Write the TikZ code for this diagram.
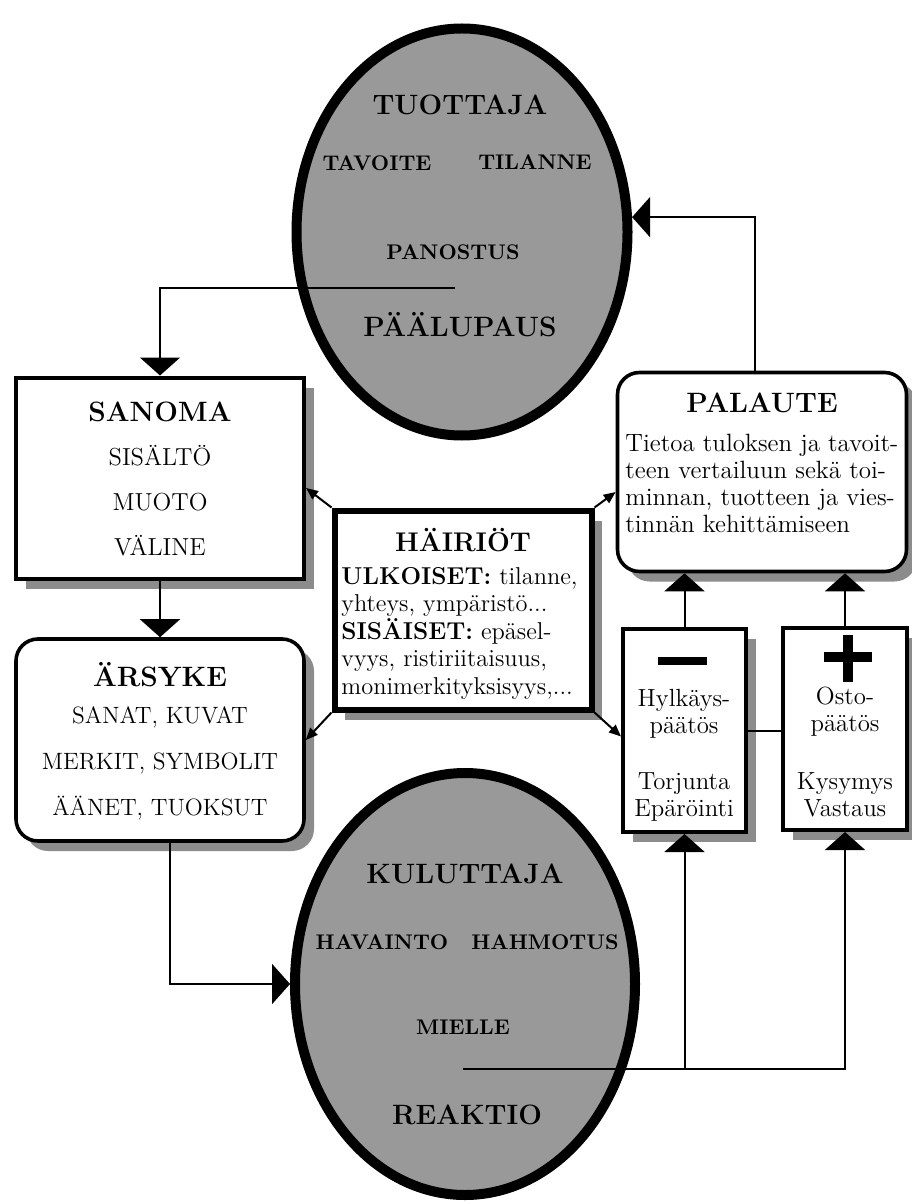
\documentclass[tikz,border=0pt]{standalone}
\usetikzlibrary{arrows.meta,positioning,shapes.geometric,shadows}

\begin{document}
\begin{tikzpicture}[x=.5pt, y=-.5pt, font=\fontsize{12.4}{13.5}\selectfont,
    conn/.style={line width=1pt},
    bigtip/.style={conn, -{Triangle[width=20pt,length=9pt]}},
    smalltip/.style={conn, -{Triangle[width=5pt,length=6pt]}},
    boxshadow/.style={drop shadow={shadow xshift=5pt, shadow yshift=-5pt, fill=black!45, opacity=1}},
    plainbox/.style={draw, line width=2pt, fill=white, boxshadow},
    roundbox/.style={draw, line width=1.8pt, rounded corners=11pt, fill=white, boxshadow},
    oval/.style={draw, ellipse, line width=5pt, fill=black!40},
    headtext/.style={font=\fontsize{14}{16}\bfseries},
    ovaltext/.style={font=\fontsize{10.6}{12}\bfseries},
    ovalhead/.style={font=\fontsize{14}{16}\bfseries}]
    \useasboundingbox (0,0) rectangle (911,1203);
    % producer and consumer
    \node[oval, minimum width=165.5pt, minimum height=203.5pt] (tuottaja) at (462,232) {};
    \node[oval, minimum width=170pt, minimum height=211pt] (kuluttaja) at (465,984) {};
    \node[ovalhead] (tuoname) at (460,105) {TUOTTAJA};
    \node[ovaltext] (tavoite) at (377,163) {TAVOITE};
    \node[ovaltext] (tilanne) at (535,162) {TILANNE};
    \node[ovaltext] (panostus) at (453,252) {PANOSTUS};
    \node[ovalhead] (paalupaus) at (460,325) {PÄÄLUPAUS};
    \node[ovalhead] (kulname) at (465,874) {KULUTTAJA};
    \node[ovaltext] (havainto) at (382,942) {HAVAINTO};
    \node[ovaltext] (hahmotus) at (545,942) {HAHMOTUS};
    \node[ovaltext] (mielle) at (463,1027) {MIELLE};
    \node[ovalhead] (reaktio) at (467,1115) {REAKTIO};
    \coordinate (tuodiv) at (455,288);
    \coordinate (kuldiv) at (463,1069);
    % message and stimulus
    \node[plainbox, minimum width=144pt, minimum height=100.5pt] (sanoma) at (160,478) {};
    \node[headtext] (sanomahead) at (160,412) {SANOMA};
    \node[align=center, font=\fontsize{12.3}{22.5}\selectfont] (sanomalist) at (160,501) {SISÄLTÖ\\MUOTO\\VÄLINE};
    \node[roundbox, minimum width=144pt, minimum height=101pt] (arsyke) at (160,740) {};
    \node[headtext] (arsykehead) at (160,675) {ÄRSYKE};
    \node[align=center, font=\fontsize{11.8}{23}\selectfont] (arsykelist) at (160,763) {SANAT, KUVAT\\MERKIT, SYMBOLIT\\ÄÄNET, TUOKSUT};
    % feedback
    \node[roundbox, minimum width=144.5pt, minimum height=99.5pt] (palaute) at (762,472) {};
    \node[headtext] (palautehead) at (762,403) {PALAUTE};
    \node[align=left, anchor=west, inner sep=0pt, font=\fontsize{12.5}{13.5}\selectfont] (palautetext) at (625,483) {Tietoa tuloksen ja tavoit-\\teen vertailuun sekä toi-\\minnan, tuotteen ja vies-\\tinnän kehittämiseen};
    % noise
    \node[plainbox, line width=3pt, minimum width=128.5pt, minimum height=99.5pt] (hairiot) at (463,610) {};
    \node[headtext, font=\fontsize{13.5}{15}\bfseries] (hairiothead) at (463,540) {HÄIRIÖT};
    \node[align=left, anchor=west, inner sep=0pt, font=\fontsize{12.2}{13.75}\selectfont] (hairiottext) at (341,633) {\textbf{ULKOISET:} tilanne,\\yhteys, ympäristö...\\\textbf{SISÄISET:} epäsel-\\vyys, ristiriitaisuus,\\monimerkityksisyys,...};
    % decisions
    \node[plainbox, minimum width=61.5pt, minimum height=101.5pt] (minus) at (684.5,730.5) {};
    \node[plainbox, minimum width=62pt, minimum height=101pt] (plus) at (845,729) {};
    \fill (658,657) rectangle (707,665);
    \fill (824,652) rectangle (872,662);
    \fill (843,635) rectangle (853,682);
    \node[align=center] (hylkays) at (684,714) {Hylkäys-\\päätös};
    \node[align=center] (torjunta) at (684,797) {Torjunta\\Epäröinti};
    \node[align=center] (osto) at (845,712) {Osto-\\päätös};
    \node[align=center] (kysymys) at (845,795) {Kysymys\\Vastaus};
    % flow
    \draw[bigtip] (tuodiv) -| (sanoma.north);
    \draw[bigtip] (sanoma.south) -- (arsyke.north);
    \draw[bigtip] ([xshift=5pt]arsyke.south) |- (kuluttaja.west);
    \draw[bigtip] (kuldiv) -| (minus.south);
    \draw[bigtip] (kuldiv) -| (plus.south);
    \draw[bigtip] (minus.north) -- (minus.north |- palaute.south);
    \draw[bigtip] (plus.north) -- (plus.north |- palaute.south);
    \draw[conn] (minus.east) -- (minus.east -| plus.west);
    \draw[bigtip] ([xshift=-3.5pt]palaute.north) |- (tuottaja.5);
    \draw[smalltip] (hairiot.north west) -- ([yshift=-5pt]sanoma.east);
    \draw[smalltip] (hairiot.north east) -- ([yshift=-10pt]palaute.west);
    \draw[smalltip] (hairiot.south west) -- (arsyke.east);
    \draw[smalltip] (hairiot.south east) -- ([yshift=-3pt]minus.west);
\end{tikzpicture}
\end{document}
